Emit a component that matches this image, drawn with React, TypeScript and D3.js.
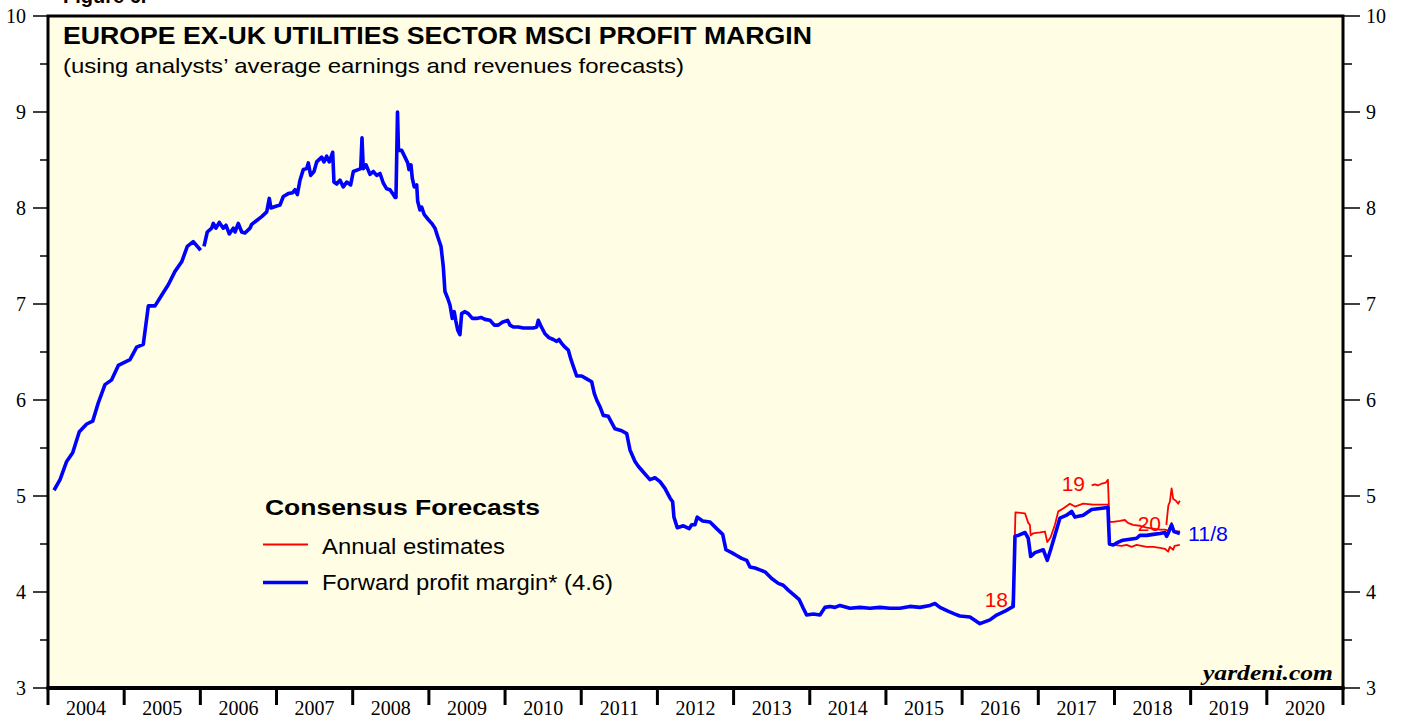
import React from "react";
import * as d3 from "d3";

// ---------- DATA ----------
const yearTicks = [2004, 2005, 2006, 2007, 2008, 2009, 2010, 2011, 2012, 2013, 2014, 2015, 2016, 2017, 2018, 2019, 2020];
const yTicks = [3, 4, 5, 6, 7, 8, 9, 10];

// Forward profit margin (decimal year, value); null marks a gap
const forwardDates = [
  2004.079, 2004.158, 2004.245, 2004.324, 2004.411, 2004.508, 2004.587, 2004.66, 2004.748, 2004.836,
  2004.923, 2005.076, 2005.164, 2005.251, 2005.317, 2005.405, 2005.506, 2005.579, 2005.667, 2005.755,
  2005.829, 2005.907, 2006.004, 2006.026, 2006.048, 2006.091, 2006.149, 2006.17, 2006.205, 2006.249,
  2006.301, 2006.337, 2006.38, 2006.432, 2006.455, 2006.498, 2006.543, 2006.586, 2006.652, 2006.674,
  2006.74, 2006.805, 2006.871, 2006.905, 2006.927, 2007.002, 2007.045, 2007.089, 2007.154, 2007.212,
  2007.242, 2007.273, 2007.308, 2007.351, 2007.396, 2007.417, 2007.448, 2007.492, 2007.527, 2007.593,
  2007.623, 2007.658, 2007.693, 2007.737, 2007.754, 2007.79, 2007.833, 2007.876, 2007.921, 2007.973,
  2008.008, 2008.073, 2008.105, 2008.122, 2008.139, 2008.174, 2008.227, 2008.27, 2008.315, 2008.358,
  2008.401, 2008.446, 2008.489, 2008.525, 2008.555, 2008.568, 2008.588, 2008.601, 2008.643, 2008.686,
  2008.722, 2008.739, 2008.765, 2008.782, 2008.808, 2008.84, 2008.853, 2008.883, 2008.905, 2008.94,
  2008.992, 2009.037, 2009.08, 2009.116, 2009.159, 2009.189, 2009.211, 2009.247, 2009.277, 2009.307,
  2009.333, 2009.352, 2009.378, 2009.408, 2009.43, 2009.474, 2009.517, 2009.57, 2009.627, 2009.684,
  2009.736, 2009.802, 2009.859, 2009.911, 2009.964, 2010.034, 2010.065, 2010.108, 2010.174, 2010.239,
  2010.305, 2010.37, 2010.415, 2010.436, 2010.471, 2010.524, 2010.576, 2010.633, 2010.678, 2010.708,
  2010.743, 2010.787, 2010.83, 2010.866, 2010.896, 2010.94, 2011.006, 2011.071, 2011.137, 2011.171,
  2011.203, 2011.246, 2011.289, 2011.355, 2011.443, 2011.531, 2011.597, 2011.64, 2011.706, 2011.749,
  2011.814, 2011.902, 2011.968, 2012.034, 2012.099, 2012.165, 2012.2, 2012.217, 2012.261, 2012.34,
  2012.418, 2012.45, 2012.493, 2012.523, 2012.594, 2012.69, 2012.778, 2012.857, 2012.9, 2012.975,
  2013.04, 2013.106, 2013.172, 2013.215, 2013.281, 2013.346, 2013.412, 2013.5, 2013.587, 2013.652,
  2013.718, 2013.806, 2013.862, 2013.915, 2013.959, 2014.046, 2014.134, 2014.199, 2014.265, 2014.331,
  2014.396, 2014.528, 2014.659, 2014.79, 2014.921, 2015.053, 2015.184, 2015.315, 2015.446, 2015.578,
  2015.643, 2015.709, 2015.814, 2015.906, 2015.971, 2016.103, 2016.234, 2016.365, 2016.453, 2016.562,
  2016.671, 2016.694, 2016.737, 2016.825, 2016.868, 2016.9, 2016.956, 2017.065, 2017.118, 2017.162,
  2017.218, 2017.284, 2017.372, 2017.438, 2017.481, 2017.59, 2017.7, 2017.809, 2017.914, 2017.934,
  2017.984, 2018.05, 2018.111, 2018.203, 2018.291, 2018.334, 2018.422, 2018.509, 2018.597, 2018.662,
  2018.684, 2018.705, 2018.75, 2018.78, 2018.858,
];
const forwardValues: (number | null)[] = [
  5.06, 5.17, 5.36, 5.45, 5.67, 5.75, 5.78, 5.97, 6.16, 6.21,
  6.36, 6.42, 6.55, 6.58, 6.98, 6.98, 7.11, 7.2, 7.34, 7.44,
  7.6, 7.65, 7.56, null, 7.6, 7.75, 7.79, 7.84, 7.79, 7.85,
  7.79, 7.82, 7.73, 7.79, 7.75, 7.84, 7.75, 7.74, 7.79, 7.83,
  7.87, 7.91, 7.96, 8.1, 8.0, 8.02, 8.03, 8.12, 8.15, 8.16,
  8.19, 8.14, 8.29, 8.4, 8.41, 8.47, 8.34, 8.38, 8.48, 8.53,
  8.48, 8.54, 8.48, 8.58, 8.27, 8.25, 8.29, 8.22, 8.27, 8.24,
  8.38, 8.4, 8.41, 8.73, 8.41, 8.45, 8.35, 8.38, 8.34, 8.36,
  8.26, 8.2, 8.19, 8.15, 8.11, 8.11, 9.0, 8.6, 8.6, 8.53,
  8.47, 8.4, 8.45, 8.31, 8.22, 8.24, 8.07, 7.98, 8.01, 7.93,
  7.88, 7.84, 7.79, 7.7, 7.6, 7.39, 7.13, 7.06, 6.99, 6.85,
  6.92, 6.83, 6.73, 6.68, 6.9, 6.92, 6.9, 6.85, 6.85, 6.86,
  6.84, 6.83, 6.78, 6.78, 6.81, 6.83, 6.78, 6.76, 6.76, 6.75,
  6.75, 6.75, 6.76, 6.83, 6.77, 6.69, 6.65, 6.63, 6.61, 6.63,
  6.59, 6.55, 6.52, 6.42, 6.35, 6.25, 6.25, 6.22, 6.19, 6.07,
  6.0, 5.93, 5.84, 5.83, 5.7, 5.68, 5.65, 5.48, 5.36, 5.31,
  5.25, 5.17, 5.19, 5.15, 5.08, 4.98, 4.94, 4.78, 4.67, 4.69,
  4.66, 4.7, 4.7, 4.78, 4.74, 4.73, 4.66, 4.6, 4.44, 4.41,
  4.38, 4.35, 4.33, 4.26, 4.25, 4.23, 4.21, 4.14, 4.09, 4.07,
  4.02, 3.96, 3.92, 3.83, 3.76, 3.77, 3.76, 3.84, 3.85, 3.84,
  3.86, 3.83, 3.84, 3.83, 3.84, 3.83, 3.83, 3.85, 3.84, 3.86,
  3.88, 3.84, 3.8, 3.77, 3.75, 3.74, 3.67, 3.71, 3.76, 3.8,
  3.85, 4.58, 4.59, 4.62, 4.56, 4.37, 4.41, 4.44, 4.33, 4.44,
  4.59, 4.77, 4.8, 4.84, 4.78, 4.8, 4.86, 4.87, 4.88, 4.5,
  4.49, 4.52, 4.54, 4.55, 4.56, 4.59, 4.59, 4.6, 4.61, 4.62,
  4.58, 4.61, 4.7, 4.63, 4.61,
];

// Annual estimates
const est18Dates = [
  2016.654, 2016.673, 2016.7, 2016.825, 2016.847, 2016.868, 2016.89, 2016.9, 2016.93, 2017.022,
  2017.087, 2017.118, 2017.162, 2017.218, 2017.262, 2017.327, 2017.415, 2017.481, 2017.59, 2017.721,
  2017.809, 2017.914, 2017.934, 2017.984, 2018.093, 2018.159, 2018.224, 2018.291, 2018.356, 2018.422,
  2018.509, 2018.597, 2018.662, 2018.705, 2018.727, 2018.771, 2018.79, 2018.858,
];
const est18Values = [
  3.86, 3.95, 4.83, 4.82, 4.77, 4.72, 4.7, 4.59, 4.61, 4.62,
  4.63, 4.52, 4.57, 4.7, 4.84, 4.87, 4.92, 4.89, 4.92, 4.91,
  4.91, 4.91, 4.49, 4.49, 4.48, 4.49, 4.47, 4.49, 4.48, 4.47,
  4.47, 4.46, 4.45, 4.42, 4.47, 4.44, 4.48, 4.49,
];
const est19Dates = [
  2017.7, 2017.743, 2017.782, 2017.835, 2017.887, 2017.914, 2017.934, 2017.984, 2018.071, 2018.137,
  2018.176, 2018.243, 2018.334, 2018.422, 2018.509, 2018.597, 2018.662, 2018.705, 2018.75, 2018.78,
  2018.858,
];
const est19Values = [
  5.11, 5.12, 5.11, 5.13, 5.14, 5.17, 4.73, 4.73, 4.74, 4.75,
  4.72, 4.7, 4.69, 4.67, 4.66, 4.65, 4.65, 4.64, 4.72, 4.63,
  4.63,
];
const est20Dates = [2018.681, 2018.707, 2018.727, 2018.75, 2018.771, 2018.806, 2018.837, 2018.858];
const est20Values = [4.7, 4.9, 4.94, 5.08, 4.97, 4.95, 4.92, 4.95];

const estLabels = ["18", "19", "20"];

// ---------- CHART ----------
const W = 1403;
const H = 717;
const L = 48, R = 1343, T = 16, B = 688;

export default function App() {
  const x = d3.scaleLinear().domain([2004, 2021]).range([L, R]);
  const y = d3.scaleLinear().domain([3, 10]).range([B, T]);

  const line = d3
    .line<[number, number | null]>()
    .defined((d) => d[1] !== null)
    .x((d) => x(d[0]))
    .y((d) => y(d[1] as number));

  const zip = (a: number[], b: (number | null)[]) => a.map((v, i) => [v, b[i]] as [number, number | null]);

  const fwd = zip(forwardDates, forwardValues);
  const e18 = zip(est18Dates, est18Values);
  const e19 = zip(est19Dates, est19Values);
  const e20 = zip(est20Dates, est20Values);

  const minorTicks = d3.range(3.5, 10, 1);
  const sans = "'Liberation Sans', Arial, Helvetica, sans-serif";
  const serif = "'Liberation Serif', 'Times New Roman', serif";
  const redW = 1.8;
  const blueW = 3.6;

  return (
    <svg width={W} height={H} style={{ position: "absolute", left: 0, top: 0, background: "#fff" }}>
      <text x={63} y={3} fontFamily={sans} fontWeight="bold" fontSize={20} fill="#000">Figure 6.</text>
      <rect x={L} y={T} width={R - L} height={B - T} fill="#FFFEE4" />

      {/* left/right y ticks */}
      {yTicks.map((t) => (
        <g key={"yt" + t}>
          <line x1={33} x2={L} y1={y(t)} y2={y(t)} stroke="#000" strokeWidth={1.5} />
          <line x1={R} x2={1360} y1={y(t)} y2={y(t)} stroke="#000" strokeWidth={1.5} />
          <text x={26} y={y(t) + 7} textAnchor="end" fontFamily={serif} fontSize={20} fill="#000">{t}</text>
          <text x={1366} y={y(t) + 7} textAnchor="start" fontFamily={serif} fontSize={20} fill="#000">{t}</text>
        </g>
      ))}
      {minorTicks.map((t) => (
        <g key={"ym" + t}>
          <line x1={40} x2={L} y1={y(t)} y2={y(t)} stroke="#000" strokeWidth={1.5} />
          <line x1={R} x2={1352} y1={y(t)} y2={y(t)} stroke="#000" strokeWidth={1.5} />
        </g>
      ))}

      {/* x ticks */}
      {[...yearTicks, 2021].map((yr) => (
        <line key={"xt" + yr} x1={x(yr)} x2={x(yr)} y1={B} y2={705} stroke="#000" strokeWidth={3} />
      ))}
      {yearTicks.map((yr) => (
        <text key={"xl" + yr} x={x(yr + 0.5)} y={715} textAnchor="middle" fontFamily={serif} fontSize={20} fill="#000">
          {yr}
        </text>
      ))}

      {/* series */}
      <path d={line(e18) || ""} fill="none" stroke="#FF0000" strokeWidth={redW} strokeLinejoin="round" />
      <path d={line(e19) || ""} fill="none" stroke="#FF0000" strokeWidth={redW} strokeLinejoin="round" />
      <path d={line(fwd) || ""} fill="none" stroke="#0000FF" strokeWidth={blueW} strokeLinejoin="round" />
      <path d={line(e20) || ""} fill="none" stroke="#FF0000" strokeWidth={redW} strokeLinejoin="round" />

      {/* labels on estimate lines */}
      <text x={1008} y={607} textAnchor="end" fontFamily={sans} fontSize={21} fill="#FF0000">{estLabels[0]}</text>
      <text x={1085} y={491} textAnchor="end" fontFamily={sans} fontSize={21} fill="#FF0000">{estLabels[1]}</text>
      <text x={1161} y={531} textAnchor="end" fontFamily={sans} fontSize={21} fill="#FF0000">{estLabels[2]}</text>
      <text x={1188} y={541} fontFamily={sans} fontSize={21} fill="#0000FF" textLength={40} lengthAdjust="spacingAndGlyphs">11/8</text>

      {/* frame */}
      <rect x={L} y={T} width={R - L} height={B - T} fill="none" stroke="#000" strokeWidth={3} />
      <line x1={L - 1.5} x2={R + 1.5} y1={B} y2={B} stroke="#000" strokeWidth={4} />

      {/* titles */}
      <text x={63} y={44} fontFamily={sans} fontWeight="bold" fontSize={23} fill="#000" textLength={749} lengthAdjust="spacingAndGlyphs">
        EUROPE EX-UK UTILITIES SECTOR MSCI PROFIT MARGIN
      </text>
      <text x={63} y={73} fontFamily={sans} fontSize={21} fill="#000" textLength={621} lengthAdjust="spacingAndGlyphs">
        (using analysts’ average earnings and revenues forecasts)
      </text>

      {/* legend */}
      <text x={265} y={515} fontFamily={sans} fontWeight="bold" fontSize={22} fill="#000" textLength={275} lengthAdjust="spacingAndGlyphs">Consensus Forecasts</text>
      <line x1={263} x2={308} y1={544.5} y2={544.5} stroke="#FF0000" strokeWidth={redW} />
      <text x={322} y={554} fontFamily={sans} fontSize={22} fill="#000" textLength={183} lengthAdjust="spacingAndGlyphs">Annual estimates</text>
      <line x1={263} x2={308} y1={582.5} y2={582.5} stroke="#0000FF" strokeWidth={blueW} />
      <text x={322} y={590} fontFamily={sans} fontSize={22} fill="#000" textLength={291} lengthAdjust="spacingAndGlyphs">Forward profit margin* (4.6)</text>

      <text x={1333} y={680} textAnchor="end" fontFamily={serif} fontWeight="bold" fontStyle="italic" fontSize={22} fill="#000" textLength={130} lengthAdjust="spacingAndGlyphs">
        yardeni.com
      </text>
    </svg>
  );
}
